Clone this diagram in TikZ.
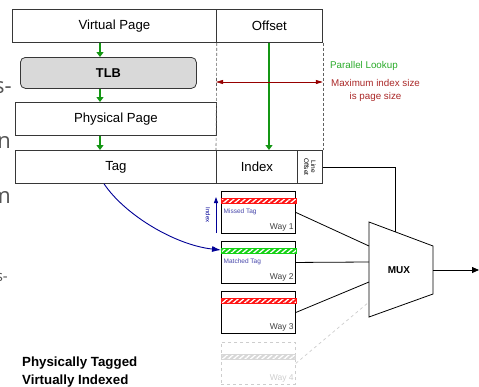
\documentclass[tikz,border=0pt]{standalone}
\usepackage{fontspec}
\setmainfont{Liberation Sans}
\newfontfamily\fragfont{Open Sans}
\usetikzlibrary{arrows.meta,patterns.meta,calc}

\definecolor{boxc}{RGB}{55,55,55}
\definecolor{tlbfill}{RGB}{217,217,217}
\definecolor{garrowc}{RGB}{20,150,20}
\definecolor{gtext}{RGB}{40,170,40}
\definecolor{redarrow}{RGB}{150,0,0}
\definecolor{redtext}{RGB}{170,40,40}
\definecolor{navyc}{RGB}{0,0,150}
\definecolor{bluetext}{RGB}{70,70,170}
\definecolor{stripered}{RGB}{255,20,20}
\definecolor{stripegreen}{RGB}{20,210,20}
\definecolor{stripegray}{RGB}{215,215,215}
\definecolor{ghost}{RGB}{205,205,205}
\definecolor{fragc}{RGB}{85,85,85}

\tikzset{
  field/.style={draw=boxc, line width=0.8pt, inner sep=0pt, anchor=north west,
    font=\fontsize{13.2}{15}\selectfont},
  waybox/.style={draw=black, line width=0.9pt, inner sep=0pt, anchor=north west,
    minimum width=74pt, minimum height=42pt},
  ghostbox/.style={draw=ghost, dashed, line width=0.8pt, inner sep=0pt, anchor=north west,
    minimum width=74pt, minimum height=42pt},
  garrow/.style={draw=garrowc, line width=1.8pt, -{Triangle[length=5pt,width=7pt]}},
  tagstripe/.style={draw=#1, line width=0.8pt, preaction={fill=#1},
    pattern={Lines[angle=40,distance=3.6pt,line width=1.3pt]}, pattern color=white},
  waylabel/.style={anchor=east, text=black!75, font=\fontsize{8.5}{10}\selectfont, inner sep=0pt},
  taglabel/.style={anchor=west, text=bluetext, font=\fontsize{6.5}{8}\selectfont, inner sep=0pt},
  wire/.style={draw=black, line width=0.8pt},
  frag/.style={anchor=base east, text=fragc, inner sep=0pt, font=\fragfont\fontsize{22}{24}\selectfont},
  captext/.style={anchor=base west, inner sep=0pt, font=\bfseries\fontsize{13.3}{15}\selectfont}
}

\begin{document}
\begin{tikzpicture}[x=1pt,y=-1pt]
\useasboundingbox (0,0) rectangle (479,386);

% address fields
\node[field, minimum width=204pt, minimum height=33pt] (vp) at (12,9) {Virtual Page};
\node[field, minimum width=106pt, minimum height=33pt] (off) at (216,9) {Offset};
\node[field, fill=tlbfill, rounded corners=5pt, minimum width=176pt, minimum height=31pt,
      font=\bfseries\fontsize{12.8}{14}\selectfont] (tlb) at (20,57) {TLB};
\node[field, minimum width=201pt, minimum height=33pt] (pp) at (15,102) {Physical Page};
\node[field, minimum width=201pt, minimum height=33pt] (tag) at (15,150) {Tag};
\node[field, minimum width=81pt, minimum height=33pt] (idx) at (216,150) {Index};
\node[field, minimum width=25pt, minimum height=33pt] (lo) at (297,150) {};
\node[rotate=-90, align=center, inner sep=0pt, font=\fontsize{6.5}{7}\selectfont] (lotext) at (lo.center) {Line\\Offset};

% translation path
\coordinate (ax) at (100,0);
\draw[garrow] (vp.south -| ax) -- (tlb.north -| ax);
\draw[garrow] (tlb.south -| ax) -- (pp.north -| ax);
\draw[garrow] (pp.south -| ax) -- (tag.north -| ax);

% page offset carried straight to the index
\coordinate (bx) at (269,0);
\draw[garrow] (off.south -| bx) -- (idx.north -| bx);

% page boundary guides
\draw[boxc!80, line width=0.6pt, dash pattern=on 3pt off 2pt] (vp.south east) -- (idx.north west);
\draw[boxc!80, line width=0.6pt, dash pattern=on 3pt off 2pt] (off.south east) -- (lo.north east);

\coordinate (ry) at (0,82);
\draw[redarrow, line width=0.8pt, {Triangle[length=7pt,width=4pt]}-{Triangle[length=7pt,width=4pt]}]
  (off.south west |- ry) -- (off.south east |- ry);

\node[anchor=west, text=gtext, font=\fontsize{9.8}{11}\selectfont, inner sep=0pt] (pl) at (330,66) {Parallel Lookup};
\node[align=center, text=redtext, font=\fontsize{9.8}{12.5}\selectfont, inner sep=0pt] (mx) at (375.5,90.5) {Maximum index size\\is page size};

% cache ways
\node[waybox] (w1) at (221,191) {};
\node[waybox] (w2) at (221,241) {};
\node[waybox] (w3) at (221,291) {};
\node[ghostbox] (w4) at (221,342) {};

\draw[tagstripe=stripered] ($(w1.north west)+(0,7)$) rectangle ($(w1.north east)+(0,12)$);
\draw[tagstripe=stripegreen] ($(w2.north west)+(0,7)$) rectangle ($(w2.north east)+(0,12)$);
\draw[tagstripe=stripered] ($(w3.north west)+(0,7)$) rectangle ($(w3.north east)+(0,12)$);
\draw[tagstripe=stripegray] ($(w4.north west)+(0,12)$) rectangle ($(w4.north east)+(0,17)$);

\node[taglabel] (mt) at ($(w1.north west)+(2.5,21)$) {Missed Tag};
\node[taglabel] (ht) at ($(w2.north west)+(2.5,21)$) {Matched Tag};

\node[waylabel] (l1) at ($(w1.south east)+(-2,-6.5)$) {Way 1};
\node[waylabel] (l2) at ($(w2.south east)+(-2,-6.5)$) {Way 2};
\node[waylabel] (l3) at ($(w3.south east)+(-2,-6.5)$) {Way 3};
\node[waylabel, text=ghost] (l4) at ($(w4.south east)+(-2,-6.5)$) {Way 4};

% index selects the set
\coordinate (ib) at (216,233);
\coordinate (it) at (216,197);
\draw[navyc, line width=0.9pt, -{Triangle[length=6pt,width=4pt]}] (ib) -- (it);
\node[rotate=-90, text=navyc, font=\fontsize{6}{7}\selectfont, inner sep=0pt] (ixl) at (208,215) {Index};

\coordinate (cx) at (104,0);
\coordinate (hit) at ($(w2.north west)+(0,9)$);
\draw[navyc, line width=0.9pt, -{Latex[length=9pt,width=6pt]}]
  (tag.south -| cx) .. controls (125,215) and (175,245) .. (hit);

% multiplexer
\coordinate (m1) at (369,222);
\coordinate (m2) at (433,246);
\coordinate (m3) at (433,294);
\coordinate (m4) at (369,317);
\draw[wire] (m1) -- (m2) -- (m3) -- (m4) -- cycle;
\node[font=\bfseries\fontsize{10}{12}\selectfont, inner sep=0pt] (mux) at (399,270) {MUX};

\coordinate (i1) at (369,246);
\coordinate (i2) at (369,262);
\coordinate (i3) at (369,282);
\coordinate (i4) at (369,302);
\draw[wire] (w1.east) -- (i1);
\draw[wire] (w2.east) -- (i2);
\draw[wire] (w3.east) -- (i3);
\draw[ghost, dashed, line width=0.7pt] (w4.east) -- (i4);

\coordinate (sel) at (395,231.75);
\draw[wire] (lo.east) -| (sel);

\coordinate (outp) at (479,270);
\coordinate (mo) at (433,270);
\draw[wire, -{Triangle[length=7pt,width=6pt]}] (mo) -- (outp);

% caption
\node[captext] (cap1) at (22,366) {Physically Tagged};
\node[captext] (cap2) at (22,384) {Virtually Indexed};

% text running in from the left margin
\node[frag] (f1) at (12,93) {s-};
\node[frag] (f2) at (11,148) {n};
\node[frag] (f3) at (11,203) {m};
\node[frag, font=\fragfont\fontsize{15}{16}\selectfont] (f4) at (8,281) {s-};
\end{tikzpicture}
\end{document}
